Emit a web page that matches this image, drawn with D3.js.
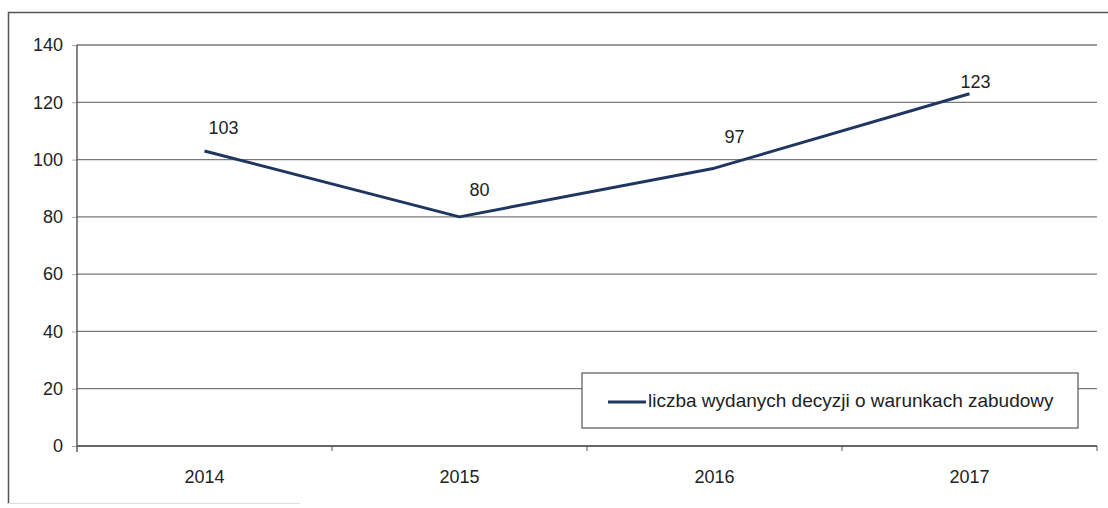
<!DOCTYPE html>
<html>
<head>
<meta charset="utf-8">
<script src="https://cdn.jsdelivr.net/npm/d3@7"></script>
<style>
  body { margin: 0; background: #fff; }
  svg { display: block; font-family: "Liberation Sans", Arial, sans-serif; }
</style>
</head>
<body>
<div id="chart"></div>
<script>
// data
const years = ['2014', '2015', '2016', '2017'];
const decisions = [103, 80, 97, 123];
const yTicks = [0, 20, 40, 60, 80, 100, 120, 140];
const seriesName = 'liczba wydanych decyzji o warunkach zabudowy';

// label nudges (styling only), Excel style manual positions
const labelNudge = [[19, -22], [20, -26], [20, -30], [6, -10]];

const width = 1108, height = 508;
const margin = { top: 45, right: 11, bottom: 62, left: 77 };
const lineColor = '#1f3660';

const svg = d3.select('#chart').append('svg')
    .attr('width', width)
    .attr('height', height);

// outer chart frame (right side cut off in the scan)
svg.append('path')
    .attr('d', `M8.5,${height - 4} L8.5,12.5 L${width},12.5`)
    .attr('fill', 'none')
    .attr('stroke', '#555')
    .attr('stroke-width', 1.5);
svg.append('line')
    .attr('x1', 8).attr('x2', 300)
    .attr('y1', height - 4.5).attr('y2', height - 4.5)
    .attr('stroke', '#ddd');

const x = d3.scaleBand()
    .domain(years)
    .range([margin.left, width - margin.right]);

const y = d3.scaleLinear()
    .domain([0, 140])
    .range([height - margin.bottom, margin.top]);

// grid lines
svg.append('g')
    .selectAll('line')
    .data(yTicks)
    .join('line')
    .attr('x1', margin.left)
    .attr('x2', width - margin.right)
    .attr('y1', d => y(d))
    .attr('y2', d => y(d))
    .attr('stroke', '#7a7a7a')
    .attr('stroke-width', 1.3);

// y axis
const yAxis = svg.append('g')
    .attr('transform', `translate(${margin.left},0)`)
    .call(d3.axisLeft(y).tickValues(yTicks).tickSize(5).tickPadding(9));
yAxis.select('.domain').remove();
yAxis.append('line')
    .attr('x1', 0).attr('x2', 0)
    .attr('y1', margin.top).attr('y2', y(0) + 6)
    .attr('stroke', '#444').attr('stroke-width', 1.3);
yAxis.selectAll('.tick line').attr('stroke', '#aaa');
yAxis.selectAll('text')
    .attr('fill', '#222')
    .style('font-size', '18px')
    .style('font-family', '"Liberation Sans", Arial, sans-serif');

// x axis: ticks on the band boundaries
const xAxis = svg.append('g')
    .attr('transform', `translate(0,${y(0)})`);
xAxis.append('line')
    .attr('x1', margin.left).attr('x2', width - margin.right)
    .attr('stroke', '#555').attr('stroke-width', 1.3);
const bounds = years.map(d => x(d)).concat([x(years[years.length - 1]) + x.bandwidth()]);
xAxis.selectAll('.xtick')
    .data(bounds.slice(1))
    .join('line')
    .attr('class', 'xtick')
    .attr('x1', d => d).attr('x2', d => d)
    .attr('y1', 0).attr('y2', 5)
    .attr('stroke', '#555');
xAxis.selectAll('.xlabel')
    .data(years)
    .join('text')
    .attr('class', 'xlabel')
    .attr('x', d => x(d) + x.bandwidth() / 2)
    .attr('y', 37)
    .attr('text-anchor', 'middle')
    .attr('fill', '#222')
    .style('font-size', '18px')
    .text(d => d);

// the series
const pts = years.map((d, i) => [x(d) + x.bandwidth() / 2, y(decisions[i])]);
svg.append('path')
    .datum(pts)
    .attr('d', d3.line())
    .attr('fill', 'none')
    .attr('stroke', lineColor)
    .attr('stroke-width', 3)
    .attr('stroke-linejoin', 'round');

svg.append('g')
    .selectAll('text')
    .data(decisions)
    .join('text')
    .attr('x', (d, i) => pts[i][0] + labelNudge[i][0])
    .attr('y', (d, i) => pts[i][1] + labelNudge[i][1])
    .attr('text-anchor', 'middle')
    .attr('dominant-baseline', 'middle')
    .attr('fill', '#222')
    .style('font-size', '18px')
    .text(d => d);

// legend
const legend = svg.append('g').attr('transform', 'translate(582,373)');
legend.append('rect')
    .attr('width', 496).attr('height', 55)
    .attr('fill', '#fff')
    .attr('stroke', '#555')
    .attr('stroke-width', 1.2);
legend.append('line')
    .attr('x1', 26).attr('x2', 64)
    .attr('y1', 29).attr('y2', 29)
    .attr('stroke', lineColor)
    .attr('stroke-width', 3);
legend.append('text')
    .attr('x', 66).attr('y', 29)
    .attr('dominant-baseline', 'middle')
    .attr('fill', '#222')
    .style('font-size', '19px')
    .text(seriesName);
</script>
</body>
</html>
